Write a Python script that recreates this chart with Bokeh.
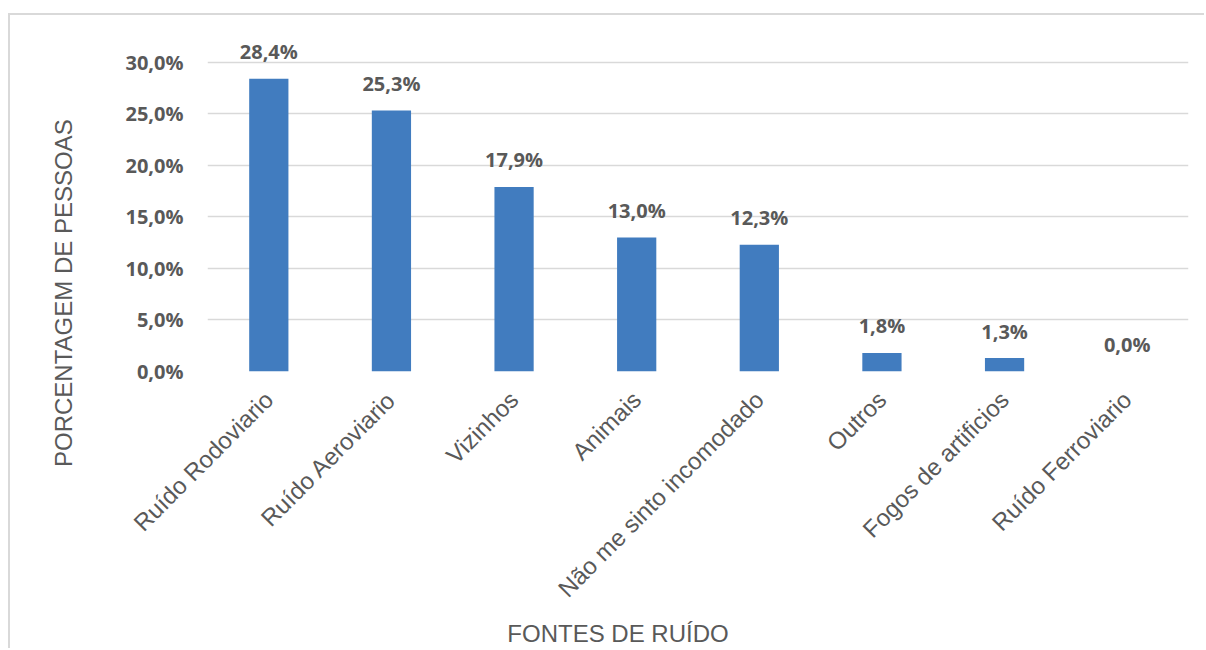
from bokeh.plotting import figure
from bokeh.models import ColumnDataSource, FactorRange, Range1d, FixedTicker
from bokeh.embed import file_html
from bokeh.resources import INLINE
from bokeh.core.properties import value
import math

categories = ["Ruído Rodoviario", "Ruído Aeroviario", "Vizinhos", "Animais",
              "Não me sinto incomodado", "Outros", "Fogos de artificios", "Ruído Ferroviario"]
values = [28.4, 25.3, 17.9, 13.0, 12.3, 1.8, 1.3, 0.0]
labels = ["28,4%", "25,3%", "17,9%", "13,0%", "12,3%", "1,8%", "1,3%", "0,0%"]
yticks = [0, 5, 10, 15, 20, 25, 30]
ytick_labels = ["0,0%", "5,0%", "10,0%", "15,0%", "20,0%", "25,0%", "30,0%"]
y_title = "PORCENTAGEM DE PESSOAS"
x_title = "FONTES DE RUÍDO"

src = ColumnDataSource(dict(cat=categories, val=values, lab=labels))

GREY = "#595959"
NBSP = "\u00a0"

p = figure(x_range=FactorRange(*categories, range_padding=0),
           y_range=Range1d(0, 32),
           width=1196, height=635,
           output_backend="svg", toolbar_location=None,
           min_border_left=197, min_border_right=18,
           min_border_top=26, min_border_bottom=279)
p.outline_line_color = None
p.background_fill_color = "white"
p.border_fill_color = "white"

p.vbar(x="cat", top="val", width=0.32, source=src,
       fill_color="#417cbf", line_color=None)

p.text(x="cat", y="val", text="lab", source=src,
       text_align="center", text_baseline="alphabetic", y_offset=-27,
       text_font=value("Open Sans"), text_font_style="bold",
       text_font_size="20px", text_color=GREY)

# y axis
p.yaxis.ticker = FixedTicker(ticks=yticks)
p.yaxis.major_label_overrides = {t: l for t, l in zip(yticks, ytick_labels)}
p.yaxis.axis_line_color = None
p.yaxis.major_tick_line_color = None
p.yaxis.minor_tick_line_color = None
p.yaxis.major_tick_out = 0
p.yaxis.major_tick_in = 0
p.yaxis.major_label_standoff = 24
p.yaxis.major_label_text_font = "Open Sans"
p.yaxis.major_label_text_font_style = "bold"
p.yaxis.major_label_text_font_size = "20px"
p.yaxis.major_label_text_color = GREY
# the title sits lower than the frame middle in the original: pad its top end
p.yaxis.axis_label = y_title + NBSP * 26
p.yaxis.axis_label_text_font = "Liberation Sans"
p.yaxis.axis_label_text_font_style = "normal"
p.yaxis.axis_label_text_font_size = "24px"
p.yaxis.axis_label_text_color = GREY
p.yaxis.axis_label_standoff = 45

# x axis
p.xaxis.axis_line_color = None
p.xaxis.major_tick_line_color = None
p.xaxis.minor_tick_line_color = None
p.xaxis.major_tick_out = 0
p.xaxis.major_tick_in = 0
p.xaxis.major_label_orientation = math.pi / 4
p.xaxis.major_label_standoff = 24
p.xaxis.major_label_text_font = "Liberation Sans"
p.xaxis.major_label_text_font_size = "24px"
p.xaxis.major_label_text_color = GREY
# the title sits left of the frame middle in the original: pad its right end
p.xaxis.axis_label = x_title + NBSP * 24
p.xaxis.axis_label_text_font = "Liberation Sans"
p.xaxis.axis_label_text_font_style = "normal"
p.xaxis.axis_label_text_font_size = "24px"
p.xaxis.axis_label_text_color = GREY
p.xaxis.axis_label_standoff = 5

p.xgrid.grid_line_color = None
p.ygrid.grid_line_color = "#d9d9d9"
p.ygrid.grid_line_width = 1.5

p.styles = {"border-top": "2px solid #d9d9d9", "border-left": "2px solid #d9d9d9",
            "margin-left": "8px", "margin-top": "13px"}

open("out.html", "w").write(file_html(p, INLINE))
